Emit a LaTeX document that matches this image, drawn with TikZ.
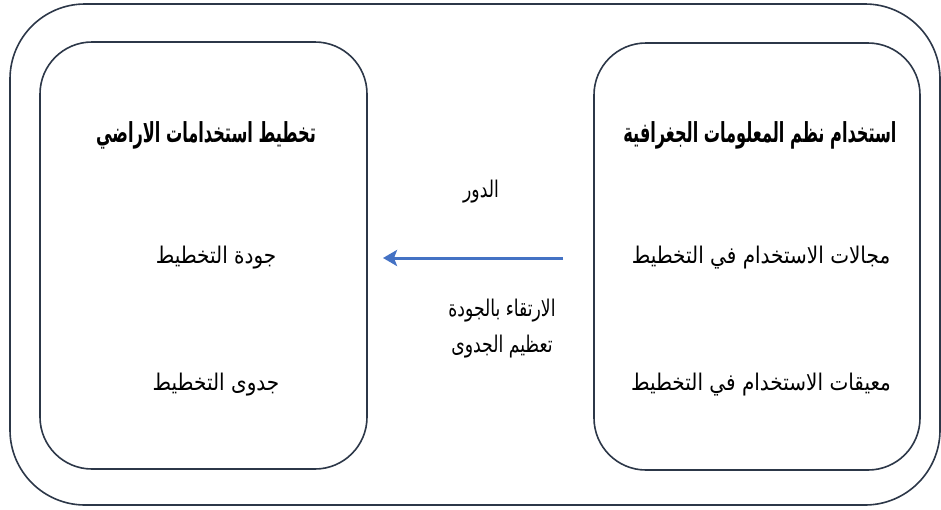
\documentclass[tikz,border=0pt]{standalone}
\usepackage{fontspec}
\usepackage{graphicx}
\usetikzlibrary{arrows.meta}
\newfontfamily\arabicfont[Script=Arabic]{DejaVu Sans}
\TeXXeTstate=1
\definecolor{boxline}{RGB}{44,55,72}
\definecolor{arrowblue}{RGB}{68,114,196}
\newcommand{\tallrtl}[1]{\scalebox{0.85}[1.45]{\beginR #1\endR}}
\newcommand{\bodyrtl}[1]{\scalebox{1}[1.15]{\beginR #1\endR}}
\newcommand{\narrowrtl}[1]{\scalebox{0.86}[1.15]{\beginR #1\endR}}
\tikzset{
  frame/.style={draw=boxline,line width=1.6pt},
  title/.style={font=\arabicfont\bfseries\fontsize{19}{22}\selectfont},
  body/.style={font=\arabicfont\fontsize{20}{24}\selectfont},
  mid/.style={font=\arabicfont\fontsize{20}{24}\selectfont},
}

\begin{document}
\begin{tikzpicture}[x=1pt,y=-1pt]
\useasboundingbox (0,0) rectangle (941,509);
% frames
\draw[frame,rounded corners=75pt] (10,4) rectangle (940,505);
\draw[frame,rounded corners=52pt] (40,42) rectangle (367,469);
\draw[frame,rounded corners=52pt] (594,43) rectangle (920,470);
% right box
\node[title] (gisT) at (760,135) {\tallrtl{استخدام نظم المعلومات الجغرافية}};
\node[body] (usesR) at (761,258) {\bodyrtl{مجالات الاستخدام في التخطيط}};
\node[body] (limitsR) at (761,385) {\bodyrtl{معيقات الاستخدام في التخطيط}};
% left box
\node[title] (landT) at (206,135) {\tallrtl{تخطيط استخدامات الاراضي}};
\node[body] (qualL) at (216,258) {\bodyrtl{جودة التخطيط}};
\node[body] (feasL) at (216,385) {\bodyrtl{جدوى التخطيط}};
% middle
\coordinate (arrS) at (563,258);
\coordinate (arrE) at (383,258);
\draw[arrowblue,line width=3pt,-{Stealth[length=14pt,width=16pt,inset=3pt]}] (arrS) -- (arrE);
\node[mid] (role) at (481,192) {\narrowrtl{الدور}};
\node[mid] (raise) at (502,311) {\narrowrtl{الارتقاء بالجودة}};
\node[mid] (maxim) at (502,347) {\narrowrtl{تعظيم الجدوى}};
\end{tikzpicture}
\end{document}
